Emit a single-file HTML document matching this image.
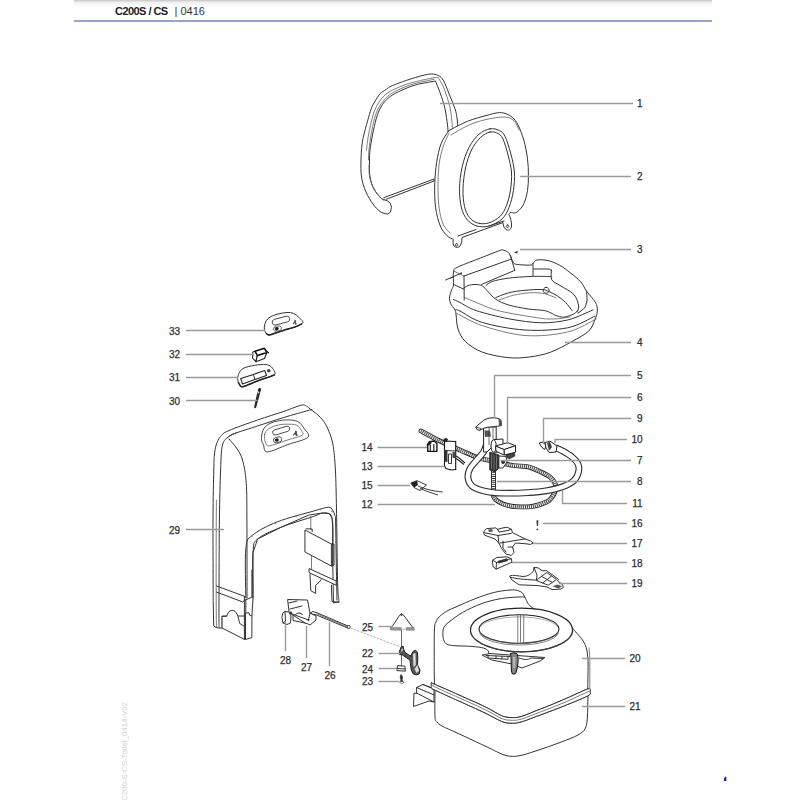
<!DOCTYPE html>
<html><head><meta charset="utf-8">
<style>
html,body{margin:0;padding:0;background:#fff;}
body{width:800px;height:800px;position:relative;overflow:hidden;font-family:"Liberation Sans",sans-serif;}
#hdr{position:absolute;left:74px;top:0;width:638px;height:21px;background:linear-gradient(#c4c4c4 0px,#ececec 2px,#f8f8f8 4px,#fdfdfd 7px,#fff 10px);}
#hline{position:absolute;left:74px;top:20px;width:638px;height:2px;background:#94a6c6;}
#h1{position:absolute;left:115px;top:5px;font-size:11px;color:#222;font-weight:bold;letter-spacing:-0.55px;white-space:pre;}
#h2{position:absolute;left:174.5px;top:5px;font-size:11px;color:#333;white-space:pre;}
#vt{position:absolute;left:120.4px;top:801px;transform-origin:0 0;transform:rotate(-90deg);font-size:8px;color:#d0d0d0;white-space:pre;letter-spacing:-0.1px;}
svg{position:absolute;left:0;top:0;}
.lb{font-family:"Liberation Sans",sans-serif;font-size:10px;fill:#2e2e2e;stroke:#2e2e2e;stroke-width:0.25px;}
.ld{stroke:#9a9a9a;stroke-width:1.4;fill:none;}
.p{fill:#fff;stroke:#333;stroke-width:1;stroke-linejoin:round;stroke-linecap:round;}
.n{fill:none;stroke:#333;stroke-width:1;stroke-linejoin:round;stroke-linecap:round;}
.g{fill:none;stroke:#5a5a5a;stroke-width:0.8;stroke-linejoin:round;stroke-linecap:round;}
.k{fill:#333;stroke:#222;stroke-width:0.6;stroke-linejoin:round;}
.h{fill:#fff;stroke:#444;stroke-width:0.9;stroke-dasharray:1.2 1;}
</style></head><body>
<div id="hdr"></div><div id="hline"></div>
<div id="h1">C200S / CS</div><div id="h2">| 0416</div>
<div id="vt">C200-S-CS-Toilet_0414-V02</div>
<svg width="800" height="800" viewBox="0 0 800 800">
<g id="parts">
<path class="p" d="M453.5 285.0 C453.8 282.1 452.9 274.9 453.5 272.0 C454.1 269.1 452.8 269.7 456.9 267.5 C461.0 265.3 470.9 261.8 478.0 259.0 C485.1 256.2 495.4 252.1 499.6 250.6 C503.8 249.1 501.7 249.8 503.0 250.0 C504.3 250.2 506.3 250.8 507.5 251.8 C508.7 252.7 509.4 253.8 510.3 255.5 C511.2 257.2 512.1 260.6 513.0 262.0 C513.9 263.4 513.6 263.6 515.4 264.1 C517.2 264.6 521.4 264.9 524.0 265.0 C526.6 265.1 529.5 265.3 531.0 265.0 C532.5 264.7 532.0 264.2 533.0 263.4 C534.0 262.6 534.4 260.5 536.9 260.0 C539.4 259.5 544.2 259.8 548.0 260.6 C551.8 261.5 555.6 263.0 559.4 265.1 C563.2 267.2 567.0 270.2 570.6 273.0 C574.2 275.8 578.1 279.0 580.8 282.0 C583.4 285.0 584.5 288.4 586.4 291.0 C588.3 293.6 590.3 295.5 592.0 297.8 C593.7 300.0 595.6 302.1 596.5 304.5 C597.4 306.9 597.5 309.4 597.2 311.9 C597.0 314.4 596.4 316.1 595.0 319.3 C593.6 322.5 592.6 327.3 588.8 331.0 C584.9 334.7 578.1 338.1 571.8 341.6 C565.4 345.1 557.6 349.7 550.5 352.2 C543.4 354.8 536.3 356.1 529.2 357.0 C522.2 357.9 515.8 358.4 508.0 357.6 C500.2 356.8 489.6 354.9 482.5 352.2 C475.4 349.6 469.6 345.5 465.5 341.6 C461.4 337.7 459.6 333.5 458.0 328.9 C456.4 324.3 456.5 317.2 456.0 314.0 C455.5 310.8 455.8 311.5 454.9 309.8 C454.0 308.0 451.5 305.5 450.6 303.4 C449.7 301.3 449.4 299.3 449.6 297.0 C449.8 294.7 451.1 291.6 451.7 289.6 C452.3 287.6 453.2 287.9 453.5 285.0Z"/><path class="n" d="M453.5 299.5 C454.6 300.0 456.2 300.6 460.0 302.5 C463.8 304.4 468.1 307.9 476.2 310.6 C484.4 313.3 497.9 316.7 508.8 318.8 C519.6 320.8 531.5 322.6 541.2 322.8 C551.0 323.0 560.0 321.6 567.5 320.0 C575.0 318.4 581.8 314.7 586.0 313.0 C590.2 311.3 591.8 310.3 593.0 309.8"/><path class="n" d="M454.9 309.8 C455.8 310.0 455.4 308.9 460.0 311.0 C464.6 313.1 471.7 319.3 482.5 322.5 C493.3 325.7 510.8 329.1 525.0 330.0 C539.2 330.9 555.8 330.1 567.5 327.8 C579.2 325.5 590.4 318.0 595.0 316.0"/><path class="g" d="M457.0 313.5 C461.2 315.5 471.2 322.0 482.5 325.7 C493.8 329.4 510.8 334.4 525.0 335.5 C539.2 336.6 555.6 334.8 567.5 332.0 C579.4 329.2 591.4 321.2 596.2 319.0"/><path class="n" d="M486.0 285.4 C487.1 284.7 488.7 282.6 492.5 281.4 C496.3 280.2 502.5 278.9 508.8 278.1 C515.0 277.3 523.4 276.8 529.9 276.5 C536.4 276.2 544.1 276.4 547.8 276.5 C551.4 276.6 551.1 276.9 551.8 277.0"/><path class="n" d="M495.8 297.6 C497.9 296.8 503.9 294.0 508.8 292.8 C513.6 291.5 519.6 290.8 525.0 290.3 C530.4 289.8 537.5 289.4 541.2 289.5 C545.0 289.6 545.0 290.0 547.8 291.1 C550.5 292.2 554.5 294.1 557.5 296.0 C560.5 297.9 563.2 300.1 565.6 302.5 C568.0 304.9 571.0 309.2 572.1 310.6"/><path class="g" d="M499.0 300.0 C501.4 299.2 508.5 296.4 513.6 295.2 C518.8 294.0 524.8 293.0 529.9 292.8 C535.0 292.5 540.1 292.7 544.5 293.6 C548.9 294.5 554.1 297.3 556.0 298.0"/><path class="n" d="M546.1 287.3a3 3 0 1 0 0.1 0z"/><path class="n" d="M551.5 270.0 C551.5 271.6 550.4 277.2 551.8 279.8 C553.2 282.3 556.3 283.1 560.0 285.5 C563.7 287.9 570.6 291.0 573.8 294.4 C576.9 297.8 578.1 302.8 578.6 305.8 C579.1 308.7 577.3 311.2 577.0 312.2"/><path class="n" d="M586.4 291.0 C586.5 292.5 587.3 297.2 587.0 300.0 C586.7 302.8 586.0 305.7 584.5 307.9 C583.0 310.1 579.1 312.1 578.0 313.0"/><path class="n" d="M533 263.4 L533 275.8 M533.5 269 L549.3 269 Q551.3 269.5 551.5 271"/><path class="n" d="M464.2 287.8 C465.1 287.3 467.5 285.5 469.8 285.0 C472.0 284.5 475.7 284.4 477.9 284.6 C480.1 284.8 481.1 285.2 482.8 286.2 C484.4 287.3 485.4 288.9 487.6 291.1 C489.8 293.3 492.2 296.9 495.8 299.2 C499.3 301.6 503.3 303.4 508.8 305.0 C514.2 306.6 522.3 308.1 528.2 309.0 C534.2 309.9 540.7 309.9 544.5 310.6 C548.3 311.3 549.1 312.2 551.0 313.0 C552.9 313.8 553.7 314.8 555.9 315.5 C558.1 316.2 561.0 317.4 564.0 317.1 C567.0 316.8 571.4 315.1 573.8 313.9 C576.1 312.7 577.3 310.6 578.0 310.0"/><path class="g" d="M464.9 297.6 C466.8 298.4 471.6 300.6 476.2 302.5 C480.9 304.4 487.1 307.2 492.5 309.0 C497.9 310.8 502.8 311.8 508.8 313.0 C514.7 314.2 522.3 315.3 528.2 316.3 C534.2 317.3 539.6 318.3 544.5 318.8 C549.4 319.2 553.2 319.0 557.5 318.8 C561.8 318.5 567.9 317.3 570.0 317.0"/><path class="n" d="M464 276 L510.6 259.3 M464 276 L464.2 300 M453.5 284.4 L464.2 289.4 M481.6 284.4 L514.8 270.3 M510.3 255.5 L514.8 270.3"/><path class="g" d="M453.5 271 L464 276"/><path class="n" d="M445.6 280 L461.4 273.1"/><path class="k" d="M450 278.5 l3 -1.3"/><circle cx="461" cy="273.3" r="0.9" fill="#333"/><path class="k" d="M514.8 252.5 l2.5 -1.2 l-0.3 1.8z"/><path class="p" d="M387.0 214.0 C385.8 213.6 382.3 213.2 380.0 211.5 C377.7 209.8 375.3 207.2 373.0 204.0 C370.7 200.8 367.9 196.5 366.0 192.0 C364.1 187.5 362.3 182.3 361.5 177.0 C360.7 171.7 360.9 165.3 361.0 160.0 C361.1 154.7 361.5 149.2 362.0 145.0 C362.5 140.8 362.8 139.0 363.8 135.0 C364.7 131.0 366.2 125.6 367.5 121.2 C368.8 116.9 370.0 112.1 371.2 108.8 C372.5 105.4 373.5 103.8 375.0 101.2 C376.5 98.8 378.1 95.7 380.0 93.8 C381.9 91.8 384.2 90.8 386.2 89.4 C388.3 88.0 388.3 87.4 392.5 85.6 C396.7 83.8 405.4 80.6 411.2 78.8 C417.1 76.9 423.5 75.1 427.5 74.4 C431.5 73.7 432.7 73.9 435.0 74.4 C437.3 74.9 439.6 75.9 441.2 77.5 C442.9 79.1 443.5 80.6 445.0 83.8 C446.5 86.9 448.3 92.1 450.0 96.2 C451.7 100.4 453.8 105.1 455.0 108.8 C456.2 112.4 456.5 114.5 457.0 118.0 C457.5 121.5 457.8 128.0 458.0 130.0 L448 132 L448.0 132.0 C447.9 130.8 448.0 128.9 447.5 125.0 C447.0 121.1 446.2 114.2 445.0 108.8 C443.8 103.3 441.6 97.1 440.0 92.5 C438.4 87.9 436.2 82.9 435.5 81.0 L435.5 81.0 C432.5 81.6 422.6 83.1 417.5 84.4 C412.4 85.7 409.2 87.0 405.0 88.8 C400.8 90.5 395.8 92.9 392.5 95.0 C389.2 97.1 387.1 99.0 385.0 101.2 C382.9 103.5 381.5 105.8 380.0 108.8 C378.5 111.7 377.5 114.4 376.2 118.8 C375.0 123.1 373.5 129.8 372.5 135.0 C371.5 140.2 370.5 145.7 370.0 150.0 C369.5 154.3 369.5 156.5 369.5 161.0 C369.5 165.5 369.2 172.3 370.0 177.0 C370.8 181.7 372.2 185.5 374.0 189.0 C375.8 192.5 379.3 196.2 381.0 198.0 C382.7 199.8 383.5 199.2 384.0 199.5 L387.6 201 L390.4 203.3 L391.5 207.3 L390.4 211.8 Z"/><path class="g" d="M368.5 160.0 C368.6 158.3 368.6 154.2 369.0 150.0 C369.4 145.8 370.1 140.2 371.0 135.0 C371.9 129.8 373.2 123.0 374.5 118.5 C375.8 114.0 376.9 111.1 378.5 108.0 C380.1 104.9 381.8 102.4 384.0 100.0 C386.2 97.6 388.2 95.6 391.5 93.5 C394.8 91.4 399.8 89.0 404.0 87.3 C408.2 85.5 412.0 84.3 417.0 83.0 C422.0 81.7 431.2 79.9 434.0 79.3"/><path class="g" d="M366.5 150.0 C366.8 147.5 367.5 140.5 368.5 135.0 C369.5 129.5 371.2 121.8 372.5 117.0 C373.8 112.2 374.9 109.7 376.5 106.5 C378.1 103.3 379.8 100.5 382.0 98.0 C384.2 95.5 386.5 93.6 390.0 91.5 C393.5 89.4 398.6 87.2 403.0 85.5 C407.4 83.8 411.5 82.8 416.5 81.5 C421.5 80.2 429.4 78.5 433.0 77.8 C436.6 77.1 437.2 77.5 438.0 77.5"/><path class="g" d="M369.0 165.0 C369.1 167.0 368.8 172.9 369.6 177.0 C370.4 181.1 372.1 185.8 374.0 189.3 C375.9 192.9 379.3 196.4 381.0 198.3 C382.7 200.2 383.8 200.1 384.3 200.5"/><path class="g" d="M438.5 78.0 C439.2 79.3 441.6 82.8 443.0 86.0 C444.4 89.2 445.8 93.0 447.0 97.0 C448.2 101.0 449.6 104.8 450.5 110.0 C451.4 115.2 452.2 125.4 452.5 128.5"/><path class="p" d="M383.7 197.7 L434 179 L434 181 L386.5 199.2"/><path class="p" d="M448.8 130.6 C451.9 129.0 461.3 123.8 467.5 121.3 C473.7 118.8 481.0 117.0 486.0 115.6 C491.0 114.2 494.3 113.2 497.5 112.8 C500.7 112.4 502.5 112.6 505.0 113.4 C507.5 114.2 510.3 115.6 512.5 117.5 C514.7 119.4 516.1 121.2 518.0 125.0 C519.9 128.8 522.2 134.4 523.8 140.0 C525.4 145.6 526.7 152.9 527.5 158.8 C528.3 164.7 528.4 170.3 528.4 175.6 C528.4 180.9 528.3 185.9 527.5 190.6 C526.7 195.3 525.4 200.4 523.8 203.8 C522.2 207.2 519.6 209.8 518.0 211.3 C516.4 212.8 515.6 212.8 514.4 213.0 C513.2 213.2 511.5 211.9 510.6 212.2 C509.7 212.4 509.1 214.1 508.8 214.5 C510 217 511.8 221 511.6 226 C511 229.5 509 230.5 507 230 C504.5 229 503 226 503 222.5 L462 237.5 C462 241 461.5 245 459 247 C457 248 454.5 247 453.4 245 C452.8 242.5 453 240 453.4 239.4 L453.4 239.4 C452.3 238.8 449.2 237.8 447.0 235.6 C444.8 233.4 442.2 230.7 440.3 226.0 C438.4 221.3 436.5 214.3 435.6 207.5 C434.7 200.7 434.5 192.5 434.7 185.0 C434.9 177.5 435.6 169.4 436.6 162.5 C437.7 155.6 439.0 149.1 441.0 143.8 C443.0 138.5 447.5 132.8 448.8 130.6Z"/><path class="g" d="M451.0 135.0 C453.8 133.4 462.2 128.1 468.0 125.5 C473.8 122.9 479.8 120.9 486.0 119.5 C492.2 118.1 500.3 116.8 505.0 117.0 C509.7 117.2 511.7 118.8 514.0 121.0 C516.3 123.2 518.2 128.5 519.0 130.0"/><path class="g" d="M449.0 133.0 C448.0 135.3 444.7 141.7 443.0 147.0 C441.3 152.3 439.8 158.7 439.0 165.0 C438.2 171.3 438.0 178.0 438.0 185.0 C438.0 192.0 438.2 200.5 439.0 207.0 C439.8 213.5 441.2 219.7 443.0 224.0 C444.8 228.3 448.8 231.5 450.0 233.0"/><path class="n" d="M490.0 128.8 C493.4 128.2 496.9 129.3 499.4 130.6 C501.9 131.8 503.1 132.6 505.0 136.3 C506.9 140.0 509.0 147.1 510.6 153.0 C512.2 158.9 513.9 165.7 514.4 172.0 C514.9 178.3 514.3 184.7 513.4 190.6 C512.5 196.5 510.9 202.8 509.0 207.5 C507.1 212.2 505.3 215.9 502.0 219.0 C498.7 222.1 493.2 224.8 489.0 226.0 C484.8 227.2 480.6 227.0 477.0 226.0 C473.4 225.0 470.1 223.0 467.5 220.0 C464.9 217.0 462.8 213.2 461.5 208.0 C460.2 202.8 459.4 195.8 459.5 188.8 C459.6 181.9 460.7 173.2 462.3 166.3 C463.9 159.4 466.2 152.8 469.0 147.5 C471.8 142.2 475.3 137.5 478.8 134.4 C482.3 131.3 486.6 129.4 490.0 128.8Z"/><path class="n" d="M490.0 132.0 C492.9 131.3 495.8 132.3 498.0 133.5 C500.2 134.7 501.3 135.4 503.0 139.0 C504.7 142.6 506.6 149.5 508.0 155.0 C509.4 160.5 511.1 166.2 511.5 172.0 C511.9 177.8 511.3 184.4 510.5 190.0 C509.7 195.6 508.2 201.1 506.5 205.5 C504.8 209.9 503.0 213.6 500.0 216.5 C497.0 219.4 492.2 221.9 488.5 223.0 C484.8 224.1 480.7 223.9 477.5 223.0 C474.3 222.1 471.7 220.2 469.5 217.5 C467.3 214.8 465.6 211.3 464.5 206.5 C463.4 201.7 462.8 195.2 463.0 188.8 C463.2 182.4 464.1 174.5 465.5 168.0 C466.9 161.5 469.0 155.1 471.5 150.0 C474.0 144.9 477.4 140.5 480.5 137.5 C483.6 134.5 487.1 132.7 490.0 132.0Z"/><path class="n" d="M458 236 L476 229.5 M489 226 L504 221"/><path class="n" d="M456.5 243.5a1.3 1.3 0 1 0 0.1 0z M507.5 225a1.3 1.3 0 1 0 0.1 0z"/><path d="M264.5 326.0 C264.8 324.6 265.1 322.7 266.0 321.2 C266.9 319.7 268.2 318.2 270.2 317.0 C272.2 315.8 275.2 314.8 278.0 314.0 C280.8 313.2 284.4 312.6 287.0 312.5 C289.6 312.4 291.7 312.6 293.6 313.4 C295.5 314.1 296.9 315.7 298.4 317.0 C299.9 318.3 302.0 320.1 302.6 321.2 C303.2 322.3 303.1 322.7 302.0 323.6 C300.9 324.5 299.0 325.5 296.0 326.6 C293.0 327.7 287.5 329.1 284.0 330.2 C280.5 331.3 277.5 332.4 275.0 333.2 C272.5 334.0 270.5 335.0 269.0 335.0 C267.5 335.0 266.8 334.1 266.0 333.2 C265.2 332.3 264.8 330.8 264.5 329.6 C264.2 328.4 264.2 327.4 264.5 326.0Z" fill="#fff" stroke="#333" stroke-width="1"/><path d="M266.0 333.4 C266.5 333.7 267.5 335.0 269.0 335.0 C270.5 335.0 272.5 334.0 275.0 333.2 C277.5 332.4 280.5 331.3 284.0 330.2 C287.5 329.1 293.0 327.7 296.0 326.6 C299.0 325.5 301.0 324.1 302.0 323.6" fill="none" stroke="#222" stroke-width="1.5"/><g transform="translate(281 320.6) rotate(-15)"><rect x="-9" y="-2.9" width="18" height="5.8" rx="2.9" fill="#fff" stroke="#444" stroke-width="0.9"/></g><g transform="translate(277.4 328.6) rotate(-12)"><ellipse cx="0" cy="0" rx="4.2" ry="2.6" fill="#fff" stroke="#555" stroke-width="0.8"/><ellipse cx="-0.6" cy="0" rx="2" ry="1.7" fill="#222"/></g><path d="M294.8 319.5 L296.2 320.5 L296 322.3 L297 324.3 L295.2 324.8 L294.5 323 L293.2 324.8 L292.8 323.5 L294.2 321.5Z" fill="#555"/><path d="M252.9 352 L255.1 351.3 L257.4 355.5 L255.9 361.7 L252.5 358Z" fill="#fff" stroke="#222" stroke-width="1.1" stroke-linejoin="round"/><path d="M257.4 355.5 L266.8 352.5 L264.5 358.5 L255.9 361.7Z" fill="#fff" stroke="#222" stroke-width="1.1" stroke-linejoin="round"/><path d="M255.1 351.3 L264.3 348.2 L266.8 352.5 L257.4 355.5Z" fill="#fff" stroke="#111" stroke-width="1.5" stroke-linejoin="round"/><path d="M264.3 348.2 L269 353 L266.8 352.5Z" fill="#333" stroke="#222" stroke-width="0.8"/><path d="M238.0 375.9 C238.7 373.9 239.8 370.9 242.0 369.2 C244.2 367.5 247.8 366.7 251.4 365.9 C255.0 365.1 260.3 364.5 263.4 364.5 C266.5 364.5 268.3 364.9 270.1 365.9 C271.9 366.9 273.3 369.2 274.1 370.6 C274.9 372.1 275.5 373.6 274.8 374.6 C274.1 375.6 273.1 375.5 270.1 376.6 C267.1 377.7 261.2 379.6 256.8 381.2 C252.3 382.9 246.2 385.9 243.4 386.6 C240.6 387.3 240.9 386.2 240.0 385.3 C239.1 384.4 238.3 382.8 238.0 381.2 C237.7 379.7 237.3 377.9 238.0 375.9Z" fill="#fff" stroke="#333" stroke-width="1"/><path d="M238.3 382.0 C238.6 382.6 239.2 384.5 240.0 385.3 C240.8 386.1 240.6 387.3 243.4 386.6 C246.2 385.9 252.3 382.9 256.8 381.2 C261.2 379.6 267.1 377.7 270.1 376.6 C273.1 375.5 274.0 374.9 274.8 374.6" fill="none" stroke="#222" stroke-width="1.5"/><path d="M240.7 378.6 L253.4 374.4 L264.8 370.6 L266.5 375.5 L255 379.6 L242.5 384Z" fill="#fff" stroke="#222" stroke-width="1.1" stroke-linejoin="round"/><path class="n" d="M253.4 374.4 L255 379.6"/><circle cx="268.8" cy="370.8" r="1.8" fill="#444"/><path d="M257.4 392 L260.3 392.6 L256.2 407.6 C255.6 408.4 254.4 408.4 254 407.4Z" fill="#2a2a2a"/><ellipse cx="259.4" cy="390.2" rx="1.6" ry="2.3" transform="rotate(15 259.4 390.2)" fill="#222"/><ellipse cx="258.3" cy="392.6" rx="0.6" ry="1.3" transform="rotate(15 258.3 392.6)" fill="#eee"/><path d="M255.5 399.8 L257.6 400.8" stroke="#ddd" stroke-width="0.8"/><path class="p" d="M213.2 600.0 C213.2 586.5 212.9 540.7 213.0 519.0 C213.1 497.3 213.5 480.7 213.8 470.0 C214.0 459.3 214.0 459.2 214.4 455.0 C214.8 450.8 215.2 448.1 216.2 445.0 C217.3 441.9 218.4 438.9 220.5 436.5 C222.6 434.1 222.8 433.2 229.0 430.5 C235.2 427.8 248.4 423.2 257.5 420.0 C266.6 416.8 276.5 413.9 283.8 411.4 C291.0 408.9 297.5 406.1 301.2 405.2 C305.0 404.4 305.0 405.5 306.5 406.1 C308.0 406.7 307.7 406.9 310.0 408.8 C312.3 410.6 317.6 414.3 320.5 417.5 C323.4 420.7 325.5 423.6 327.5 428.0 C329.5 432.4 331.4 436.8 332.8 443.8 C334.1 450.8 334.8 459.0 335.4 470.0 C336.0 481.0 336.1 491.3 336.5 510.0 C336.9 528.7 337.2 567.1 337.6 582.4 C338.0 597.7 338.8 598.4 339.0 601.6 L333.5 603 L332.8 566 L332.8 527.5 L332 517.9 L329.3 513.7 L322.5 513 L308.7 515.1 L281.2 527.2 L257.6 539 L253 552.6 L253 598 L251.9 616 L222.3 616 L222.3 628.1 L219 628 L216 627.5 L214 626 Z"/><path class="g" d="M216.5 627.0 C216.4 622.5 216.2 614.5 216.2 600.0 C216.1 585.5 216.2 556.7 216.2 540.0 C216.2 523.3 216.4 506.7 216.4 500.0"/><path class="n" d="M219.0 627.0 C219.0 622.5 218.9 617.8 219.0 600.0 C219.1 582.2 219.1 541.7 219.4 520.0 C219.7 498.3 220.1 482.5 220.6 470.0 C221.1 457.5 221.1 450.6 222.5 445.0 C223.9 439.4 226.5 438.5 228.8 436.5 C231.0 434.5 234.8 433.6 236.0 433.0"/><path class="n" d="M228.8 436.5 C230.0 435.9 231.2 434.8 236.0 433.0 C240.8 431.2 249.5 428.6 257.5 426.0 C265.5 423.4 275.3 420.1 283.8 417.5 C292.2 414.9 303.5 411.8 308.2 410.5 C313.0 409.2 311.4 410.1 312.0 410.0"/><path class="n" d="M228.8 438.8 C230.0 440.3 234.2 444.5 236.5 448.0 C238.8 451.5 240.9 454.2 242.5 460.0 C244.1 465.8 245.5 472.5 246.2 482.5 C247.0 492.5 246.8 507.1 246.9 520.0 C247.0 532.9 247.0 547.0 247.0 560.0 C247.0 573.0 247.0 591.7 247.0 598.0"/><path class="n" d="M245.8 598.0 C245.8 589.8 244.7 559.4 245.8 549.0 C246.9 538.6 246.9 539.9 252.2 535.4 C257.5 530.9 267.2 525.8 277.5 521.8 C287.8 517.7 305.3 513.4 313.8 511.0 C322.3 508.6 325.2 507.4 328.3 507.2 C331.4 507.1 331.4 508.7 332.5 510.0 C333.6 511.3 334.3 513.0 334.8 515.0 C335.3 517.0 335.4 514.2 335.6 521.8 C335.8 529.2 336.0 547.0 336.2 560.0 C336.4 573.0 336.9 593.3 337.0 600.0"/><path class="n" d="M253.0 598.0 C253.0 590.4 252.2 562.4 253.0 552.6 C253.8 542.8 252.9 543.2 257.6 539.0 C262.3 534.8 271.8 531.0 281.2 527.2 C290.6 523.4 306.9 518.7 313.8 516.3 C320.7 513.9 319.9 513.4 322.5 513.0 C325.1 512.6 327.7 512.9 329.3 513.7 C330.9 514.5 331.4 515.6 332.0 517.9 C332.6 520.2 332.7 519.5 332.8 527.5 C332.9 535.5 332.8 559.6 332.8 566.0"/><circle cx="252" cy="536" r="0.7" fill="#666"/><circle cx="275" cy="523.5" r="0.7" fill="#666"/><circle cx="296" cy="516.5" r="0.7" fill="#666"/><circle cx="320.5" cy="509.5" r="0.7" fill="#666"/><circle cx="332" cy="511.5" r="0.7" fill="#666"/><path d="M261.4 438.4 C261.4 435.7 262.2 431.3 263.8 428.7 C265.4 426.1 267.9 424.4 271.0 423.0 C274.1 421.6 278.9 420.7 282.5 420.2 C286.1 419.7 289.6 419.9 292.3 420.2 C295.0 420.5 296.9 420.9 298.8 422.2 C300.6 423.5 302.1 425.4 303.6 427.9 C305.1 430.4 310.6 434.4 308.0 437.2 C305.4 440.0 294.8 442.1 288.0 444.5 C281.2 446.9 271.6 451.8 267.5 451.9 C263.4 452.0 264.5 447.2 263.5 445.0 C262.5 442.8 261.3 441.1 261.4 438.4Z" fill="#fff" stroke="#333" stroke-width="0.9"/><path class="g" d="M264.6 434.4 C265.2 432.1 266.4 430.3 268.7 428.7 C271.0 427.1 275.0 425.8 278.4 425.0 C281.8 424.2 285.9 424.1 289.0 424.2 C292.1 424.3 295.0 424.4 297.0 425.4 C299.0 426.4 300.4 428.7 301.2 430.3 C302.0 431.9 304.5 433.5 302.0 435.2 C299.5 436.9 291.4 438.7 286.0 440.5 C280.6 442.3 272.9 445.5 269.5 445.8 C266.1 446.1 266.2 444.4 265.4 442.5 C264.6 440.6 264.1 436.7 264.6 434.4Z"/><g transform="translate(281.2 430.6) rotate(-17)"><rect x="-8.8" y="-2.6" width="17.6" height="5.2" rx="2.6" fill="#fff" stroke="#333" stroke-width="0.8"/></g><g transform="translate(277.6 439.8) rotate(-17)"><rect x="-4.2" y="-2.6" width="8.4" height="5.2" rx="2.6" fill="#fff" stroke="#333" stroke-width="0.8"/><ellipse cx="-0.8" cy="0" rx="2" ry="1.7" fill="#222"/></g><path d="M295.5 430.5 L297 431.5 L296.8 433.5 L298 435.5 L296 436 L295 434 L293.5 436 L293.2 434.5 L294.8 432.5Z" fill="#444"/><path class="n" d="M216.5 586 L244.4 596.3 M216.5 592 L242.5 601.9 L244.4 600.5"/><path class="n" d="M244.4 596.3 L244.4 639.4 M245.8 600 L245.8 639"/><path class="n" d="M251.9 570 L251.9 597.2 L245.3 600"/><path class="p" d="M222.3 616.4 L226.6 616.4 L227.5 614 C229 611 231 610.3 232.2 610.3 C234.5 610.3 236 612 236.9 614 C238.5 617 239 621 239.7 623.4 L242.5 625.3 L244.4 626.3 L244.4 639.4 L222.3 628.1Z"/><path class="p" d="M245.8 613.1 L249 612.7 L249.5 615 L251.9 616 L251.9 637.5 L245.8 639.4Z"/><path class="g" d="M310.8 516.5 L310.8 529.5 M311.5 555 L311.5 568.7"/><path class="p" d="M305.3 530.2 L331.4 544 L331.4 566 L305.3 552.2Z"/><path class="n" d="M306 528.8 L312.2 529 L312.2 531.6 M331.4 544 L334 544 L334 565 L331.4 566"/><path class="p" d="M309.4 568.7 L336.2 581 L336.2 585.2 L309.4 572.8Z"/><path class="n" d="M310 574.2 L310.8 590.7 L315.6 593.4 L315.6 585.2 L319 582.4 L321 579.7"/><path class="n" d="M331.4 585.2 L332 601.6 L339 602.3"/><path class="p" d="M414 693.5 L413.5 706.5 L429 701 L434 702 L434 689 L423 684.5 L416.6 687.5 L416.6 693Z"/><path class="n" d="M416.6 687.5 L434 695 M416.6 693 L434 702 M423 684.5 L434 689"/><path class="p" d="M435.0 690.0 C435.0 694.5 434.7 711.7 435.0 717.0 C435.3 722.3 435.8 720.5 437.0 722.0 C438.2 723.5 439.0 724.3 442.0 726.0 C445.0 727.7 447.8 728.7 455.0 732.0 C462.2 735.3 477.3 742.4 485.0 746.0 C492.7 749.6 497.1 752.0 501.2 753.8 C505.4 755.5 506.9 755.9 510.0 756.2 C513.1 756.6 515.8 756.4 520.0 755.6 C524.2 754.8 528.3 753.4 535.0 751.2 C541.7 749.1 552.8 745.2 560.0 742.5 C567.2 739.8 573.8 737.4 578.0 735.0 C582.2 732.6 583.9 731.3 585.5 728.0 C587.1 724.7 587.1 720.5 587.5 715.0 C587.9 709.5 587.8 698.8 588.0 695.0 C588.2 691.2 588.8 692.5 589.0 692.0 L590.0 692.0 C589.6 692.7 592.5 693.4 587.5 696.0 C582.5 698.6 568.8 704.0 560.0 707.5 C551.2 711.0 541.7 714.4 535.0 716.9 C528.3 719.4 524.2 721.2 520.0 722.2 C515.8 723.3 513.1 723.3 510.0 723.1 C506.9 722.9 505.4 723.0 501.2 721.2 C497.1 719.5 491.9 716.2 485.0 712.9 C478.1 709.6 465.8 704.1 460.0 701.5 C454.2 698.9 454.6 699.1 450.0 697.0 C445.4 694.9 435.4 690.3 432.5 689.0Z"/><path class="p" d="M434.5 684.0 C434.4 680.8 434.2 674.0 434.2 665.0 C434.2 656.0 434.1 637.2 434.4 630.0 C434.7 622.8 435.2 624.2 436.0 622.0 C436.8 619.8 437.5 618.7 439.2 616.9 C441.0 615.1 443.8 613.0 446.8 611.2 C449.8 609.5 452.5 608.5 457.2 606.4 C462.0 604.3 468.9 601.1 475.0 598.8 C481.1 596.4 487.9 594.0 493.8 592.5 C499.6 591.0 506.0 590.3 510.0 590.0 C514.0 589.7 515.4 590.0 517.5 590.5 C519.6 591.0 521.2 591.8 522.5 593.0 C523.8 594.2 523.5 595.2 525.0 597.5 C526.5 599.8 527.1 603.8 531.2 606.9 C535.4 610.0 543.5 612.8 550.0 616.0 C556.5 619.2 565.8 623.7 570.0 626.2 C574.2 628.8 572.9 629.0 575.0 631.2 C577.1 633.5 580.6 637.3 582.5 640.0 C584.4 642.7 585.4 645.0 586.2 647.5 C587.1 650.0 587.2 652.1 587.5 655.0 C587.8 657.9 588.1 659.3 588.1 665.0 C588.1 670.7 587.8 685.0 587.8 689.0 L588.8 688.8 C588.1 689.0 589.8 687.9 585.0 690.0 C580.2 692.1 568.3 697.7 560.0 701.2 C551.7 704.8 541.7 708.6 535.0 711.2 C528.3 713.9 524.2 715.9 520.0 716.9 C515.8 717.9 513.1 717.7 510.0 717.5 C506.9 717.3 505.4 717.4 501.2 715.6 C497.1 713.8 491.9 710.1 485.0 706.8 C478.1 703.4 465.8 698.1 460.0 695.5 C454.2 692.9 454.8 693.1 450.0 691.0 C445.2 688.9 434.6 684.3 431.5 683.0Z"/><path class="g" d="M589.0 648.0 C589.1 650.0 589.7 653.2 589.8 660.0 C589.9 666.8 589.8 684.2 589.8 689.0"/><path class="p" d="M431.5 683.0 C434.6 684.3 445.2 688.9 450.0 691.0 C454.8 693.1 454.2 692.9 460.0 695.5 C465.8 698.1 478.1 703.4 485.0 706.8 C491.9 710.1 497.1 713.8 501.2 715.6 C505.4 717.4 506.9 717.3 510.0 717.5 C513.1 717.7 515.8 717.9 520.0 716.9 C524.2 715.9 528.3 713.9 535.0 711.2 C541.7 708.6 551.7 704.8 560.0 701.2 C568.3 697.7 580.2 692.1 585.0 690.0 C589.8 687.9 588.1 689.0 588.8 688.8 C590.5 688.5 591 690 590 692 L590.0 692.0 C589.6 692.7 592.5 693.4 587.5 696.0 C582.5 698.6 568.8 704.0 560.0 707.5 C551.2 711.0 541.7 714.4 535.0 716.9 C528.3 719.4 524.2 721.2 520.0 722.2 C515.8 723.3 513.1 723.3 510.0 723.1 C506.9 722.9 505.4 723.0 501.2 721.2 C497.1 719.5 491.9 716.2 485.0 712.9 C478.1 709.6 465.8 704.1 460.0 701.5 C454.2 698.9 454.6 699.1 450.0 697.0 C445.4 694.9 435.4 690.3 432.5 689.0 L431.5 688 Z"/><path class="g" d="M432.0 685.5 C435.0 686.9 445.3 691.7 450.0 693.8 C454.7 695.9 454.2 695.6 460.0 698.2 C465.8 700.8 478.1 706.2 485.0 709.6 C491.9 713.0 497.1 716.5 501.2 718.3 C505.4 720.1 506.9 720.0 510.0 720.2 C513.1 720.4 515.8 720.5 520.0 719.5 C524.2 718.5 528.3 716.5 535.0 714.0 C541.7 711.5 550.9 708.1 560.0 704.3 C569.1 700.5 584.6 693.2 589.5 691.0"/><path class="n" d="M450.0 621.2 C449.0 622.3 444.9 624.8 443.8 627.5 C442.6 630.2 442.7 634.8 443.1 637.5 C443.5 640.2 444.5 642.4 446.2 643.8 C448.0 645.1 450.0 645.2 453.8 645.6 C457.5 646.0 464.2 645.9 468.8 646.2 C473.3 646.6 478.1 646.9 481.2 647.5 C484.4 648.1 486.2 649.0 487.5 650.0 C488.8 651.0 488.5 653.1 488.8 653.8"/><path class="n" d="M450.0 621.2 C452.1 619.8 457.3 615.4 462.5 612.5 C467.7 609.6 475.0 606.0 481.2 603.8 C487.5 601.5 493.5 599.9 500.0 598.8 C506.5 597.6 515.8 597.1 520.0 596.9 C524.2 596.7 524.2 597.4 525.0 597.5"/><ellipse cx="521.5" cy="630" rx="51" ry="21.8" fill="#fff" stroke="#222" stroke-width="1.2"/><path d="M470.5 632.5 A51.5 22 0 0 0 573 631.5" fill="none" stroke="#444" stroke-width="0.9"/><ellipse cx="519" cy="629" rx="40" ry="14.2" fill="#fff" stroke="#222" stroke-width="1.1"/><path d="M479.3 631 A40 14 0 0 0 558.8 631" fill="none" stroke="#555" stroke-width="0.8"/><path d="M479.8 633 A39.5 13.5 0 0 0 558.3 633" fill="none" stroke="#666" stroke-width="0.8"/><path d="M480.5 627 A39 12 0 0 1 557.5 627" fill="none" stroke="#777" stroke-width="0.6"/><path class="g" d="M517.8 615.5 L517.8 642 M523.7 615.3 L523.7 642 M520.5 615.3 L520.5 642"/><path class="p" d="M482.5 655 L490 653.5 L510 655 L545 657.5 L540 661 L522 668 L512 664 L492 660Z"/><path class="n" d="M486 655.5 L510 656.5 M488 655.5 l0 2.5 L496 658.5 L496 656 M496 658.5 L502 659 L502 656.3 M502 659 L508 659.3 L508 656.5 M519 658 C524 660 528 660 531 658 L543 658.5"/><path d="M510.5 653.5 C513 652.5 516 652.5 517.5 654.5 C518.5 659 518 666 516 672.5 C514.5 675 512 674.5 511.5 671.5 C511 666 511.5 659 510.5 653.5Z" fill="#858585" stroke="#222" stroke-width="1.1"/><path d="M513 657 L515.5 657 L514.8 668 L513.3 668Z" fill="#bbb"/><path d="M421.0 431.0 C424.2 432.7 433.5 437.8 440.0 441.0 C446.5 444.2 453.5 447.2 460.0 450.0 C466.5 452.8 472.9 456.1 478.8 458.0 C484.6 459.9 489.3 460.1 495.0 461.3 C500.7 462.6 507.5 464.6 513.0 465.5 C518.5 466.4 523.3 465.7 528.0 466.8 C532.7 467.9 537.3 470.3 541.0 472.0 C544.7 473.7 547.7 475.1 550.0 477.0 C552.3 478.9 554.1 481.0 555.0 483.3 C555.9 485.6 556.0 488.5 555.3 491.0 C554.6 493.5 552.5 496.7 551.0 498.5 C549.5 500.3 549.6 500.7 546.5 502.0 C543.4 503.3 537.4 505.6 532.3 506.4 C527.2 507.2 520.5 507.0 515.8 506.7 C511.0 506.4 507.5 505.6 504.0 504.3 C500.5 503.0 496.8 500.8 495.0 499.0 C493.2 497.2 493.3 494.5 493.0 493.6" fill="none" stroke="#222" stroke-width="4.8" stroke-linecap="round" stroke-linejoin="round"/><path d="M421.0 431.0 C424.2 432.7 433.5 437.8 440.0 441.0 C446.5 444.2 453.5 447.2 460.0 450.0 C466.5 452.8 472.9 456.1 478.8 458.0 C484.6 459.9 489.3 460.1 495.0 461.3 C500.7 462.6 507.5 464.6 513.0 465.5 C518.5 466.4 523.3 465.7 528.0 466.8 C532.7 467.9 537.3 470.3 541.0 472.0 C544.7 473.7 547.7 475.1 550.0 477.0 C552.3 478.9 554.1 481.0 555.0 483.3 C555.9 485.6 556.0 488.5 555.3 491.0 C554.6 493.5 552.5 496.7 551.0 498.5 C549.5 500.3 549.6 500.7 546.5 502.0 C543.4 503.3 537.4 505.6 532.3 506.4 C527.2 507.2 520.5 507.0 515.8 506.7 C511.0 506.4 507.5 505.6 504.0 504.3 C500.5 503.0 496.8 500.8 495.0 499.0 C493.2 497.2 493.3 494.5 493.0 493.6" fill="none" stroke="#eee" stroke-width="3.0" stroke-linecap="round"/><path d="M421.0 431.0 C424.2 432.7 433.5 437.8 440.0 441.0 C446.5 444.2 453.5 447.2 460.0 450.0 C466.5 452.8 472.9 456.1 478.8 458.0 C484.6 459.9 489.3 460.1 495.0 461.3 C500.7 462.6 507.5 464.6 513.0 465.5 C518.5 466.4 523.3 465.7 528.0 466.8 C532.7 467.9 537.3 470.3 541.0 472.0 C544.7 473.7 547.7 475.1 550.0 477.0 C552.3 478.9 554.1 481.0 555.0 483.3 C555.9 485.6 556.0 488.5 555.3 491.0 C554.6 493.5 552.5 496.7 551.0 498.5 C549.5 500.3 549.6 500.7 546.5 502.0 C543.4 503.3 537.4 505.6 532.3 506.4 C527.2 507.2 520.5 507.0 515.8 506.7 C511.0 506.4 507.5 505.6 504.0 504.3 C500.5 503.0 496.8 500.8 495.0 499.0 C493.2 497.2 493.3 494.5 493.0 493.6" fill="none" stroke="#3a3a3a" stroke-width="3.0" stroke-dasharray="0.9 1.1"/><path d="M493.5 456.0 C493.5 458.3 493.5 465.2 493.5 470.0 C493.5 474.8 493.5 481.0 493.5 485.0 C493.5 489.0 493.3 492.5 493.3 494.0" fill="none" stroke="#222" stroke-width="5" stroke-linecap="round" stroke-linejoin="round"/><path d="M493.5 456.0 C493.5 458.3 493.5 465.2 493.5 470.0 C493.5 474.8 493.5 481.0 493.5 485.0 C493.5 489.0 493.3 492.5 493.3 494.0" fill="none" stroke="#eee" stroke-width="3.2" stroke-linecap="round"/><path d="M493.5 456.0 C493.5 458.3 493.5 465.2 493.5 470.0 C493.5 474.8 493.5 481.0 493.5 485.0 C493.5 489.0 493.3 492.5 493.3 494.0" fill="none" stroke="#3a3a3a" stroke-width="3.2" stroke-dasharray="0.9 1.1"/><path d="M427.6 444.5 L429.5 441.6 L434 441 L436.9 443.5 L436.9 451.2 L427.8 451.4Z" fill="#fff" stroke="#111" stroke-width="1.4" stroke-linejoin="round"/><path d="M428 442 L432 441 L431 444 L428 446Z" fill="#222"/><path d="M430.3 444.5 L430.3 451 M433.8 444 L433.8 451" stroke="#222" stroke-width="1.2"/><path d="M444.5 441 L455.7 441.5 L455.7 469.5 L451 470 L446 468.5 L444.5 466Z" fill="#fff" stroke="#111" stroke-width="1.1"/><path d="M444.5 450.5 L455.7 451 M448.5 454 L448.5 463.5 L451.5 463.5 L451.5 454Z" stroke="#222" stroke-width="0.9" fill="none"/><path d="M444.3 450 L447.5 450.5 L447.5 462 L444.3 461.5Z" fill="#333"/><path d="M452.5 452 L455.5 452.3 L455.5 458 L452.5 458Z" fill="#444"/><path d="M443.5 439 L446 438 L448 439 L447 441.5 L444 441.5Z" fill="#222"/><path d="M456 456 C458.5 457.5 461.5 460 465 463 M456 458.5 C458.5 460 461 462 464 464.5" stroke="#222" stroke-width="1.1" fill="none"/><path d="M410.8 483 L417 480.7 L420 482 L426.5 485 L420 490.5 L414 487.5Z" fill="#fff" stroke="#222" stroke-width="0.9"/><path d="M411 483 L417 480.7 L418 485 L414 487.5Z" fill="#222"/><path d="M418 486 C425 489 432 491 442.7 492 M420 488.5 C427 491.5 433 493.5 438 495" stroke="#222" stroke-width="0.9" fill="none"/><path d="M487.0 443.0 C486.4 444.5 485.3 449.0 483.5 452.0 C481.7 455.0 478.3 458.1 476.0 461.0 C473.7 463.9 470.8 466.7 469.5 469.5 C468.2 472.3 467.6 475.2 468.0 478.0 C468.4 480.8 469.7 483.9 472.0 486.0 C474.3 488.1 478.2 489.4 482.0 490.5 C485.8 491.6 490.3 492.4 495.0 492.8 C499.7 493.2 504.5 493.2 510.0 493.2 C515.5 493.2 522.0 493.0 528.0 492.6 C534.0 492.2 540.2 491.8 546.0 490.8 C551.8 489.8 557.8 488.5 562.5 486.8 C567.2 485.1 571.3 483.0 574.0 480.5 C576.7 478.0 577.8 474.8 578.5 472.0 C579.2 469.2 579.1 466.5 578.0 464.0 C576.9 461.5 574.5 459.1 572.0 457.0 C569.5 454.9 565.8 452.8 563.0 451.2 C560.2 449.6 556.3 448.1 555.0 447.5" fill="none" stroke="#2a2a2a" stroke-width="6.8" stroke-linecap="butt" stroke-linejoin="round"/><path d="M487.0 443.0 C486.4 444.5 485.3 449.0 483.5 452.0 C481.7 455.0 478.3 458.1 476.0 461.0 C473.7 463.9 470.8 466.7 469.5 469.5 C468.2 472.3 467.6 475.2 468.0 478.0 C468.4 480.8 469.7 483.9 472.0 486.0 C474.3 488.1 478.2 489.4 482.0 490.5 C485.8 491.6 490.3 492.4 495.0 492.8 C499.7 493.2 504.5 493.2 510.0 493.2 C515.5 493.2 522.0 493.0 528.0 492.6 C534.0 492.2 540.2 491.8 546.0 490.8 C551.8 489.8 557.8 488.5 562.5 486.8 C567.2 485.1 571.3 483.0 574.0 480.5 C576.7 478.0 577.8 474.8 578.5 472.0 C579.2 469.2 579.1 466.5 578.0 464.0 C576.9 461.5 574.5 459.1 572.0 457.0 C569.5 454.9 565.8 452.8 563.0 451.2 C560.2 449.6 556.3 448.1 555.0 447.5" fill="none" stroke="#fff" stroke-width="4.6" stroke-linecap="butt" stroke-linejoin="round"/><path d="M489.7 452.2 L498.9 454.9 L498.9 468 L495 472 L489.7 470Z" fill="#333" stroke="#222" stroke-width="0.8"/><path d="M491.5 454 L491.5 469 M494 454.8 L494 470 M496.5 455.3 L496.5 469" stroke="#999" stroke-width="0.6"/><path d="M498.9 456 L506 456.5 L507 462 L503 468 L498.9 468Z" fill="#fff" stroke="#222" stroke-width="0.9"/><path d="M503 460 a2 2 0 1 0 0.1 0" fill="#333"/><path d="M506 452 L514 451 L515 456 L509 459 L506 457Z" fill="#444" stroke="#222" stroke-width="0.6"/><path d="M483.6 427 L496.2 427 L496.2 446 L491 448 L487 452 L483.6 452Z" fill="#fff" stroke="#222" stroke-width="1"/><path d="M484.4 430.4 L490 430.4 L491 436.5 L485 437Z" fill="#555"/><path d="M489 427.5 L489 445 M493 428 L493 439" stroke="#333" stroke-width="0.7"/><path d="M493.6 439.6 L503 439 L503 452 L494.5 452.3 A2.6 6.3 0 0 1 493.6 439.6Z" fill="#fff" stroke="#222" stroke-width="1"/><ellipse cx="493.6" cy="446" rx="2.6" ry="6.2" fill="#fff" stroke="#222" stroke-width="1"/><path d="M495.4 446.1 L507.6 442.6 L515.5 445.7 L504.1 449.6Z" fill="#fff" stroke="#222" stroke-width="1"/><path d="M504.1 449.6 L515.5 445.7 L515.5 452.3 L504.1 455Z" fill="#fff" stroke="#222" stroke-width="1"/><path d="M495.4 446.1 L496.2 451.4 L504.1 455 L504.1 449.6Z" fill="#fff" stroke="#222" stroke-width="1"/><path d="M475.7 427 L481 422.5 C484 419.5 488 418 492 417.8 C496 417.7 499.5 418.3 501 420.3 L501.5 425.5 C499 426.3 493 426.6 487.5 427.3 C484 428 481.5 429.3 479.6 430.4 L477 429.5Z" fill="#fff" stroke="#222" stroke-width="1"/><path d="M498.5 418.6 C500 419 500.8 419.6 501 420.3 L501.5 425.5 L499 426Z" fill="#555"/><path d="M475.7 427 L481 428.5 L479.6 430.4" stroke="#222" stroke-width="0.8" fill="none"/><path d="M539.2 443 L544 441.8 L546 446 L544.6 449.6 Q541 447.5 539.2 443Z" fill="#fff" stroke="#222" stroke-width="1"/><path d="M545 442.5 L550 441.2 L557 446 L556 452 L549 452.5 L546 448Z" fill="#fff" stroke="#222" stroke-width="1"/><path d="M547 443 L550 442 L552 447 L549 451Z" fill="#444"/><path d="M536.4 520.5 L538.4 520.3 L538 526 L536.9 526Z" fill="#333"/><circle cx="537.4" cy="529.4" r="0.9" fill="#333"/><path class="p" d="M483.75 532.7 L484.4 530.6 L486.5 528.6 L496.1 527.9 L497.5 529.3 L503 527.9 L507.1 527.2 L511.3 529.3 L512.6 532.7 L525 538.9 L530.5 541 L533.3 543 L530.5 544.4 L525 543.7 L515.4 543 L512.6 547.1 L514 552.6 L511.3 555.4 L505.8 554 L501.6 548.5 L498.9 543 L494.8 538.9 L485.1 535.4Z"/><path class="n" d="M484.4 532.7 L498 535.5 L511.3 533.4 M498 535.5 L498.9 543 M500.3 543 L525 538.9 M497.5 529.3 L499 532 L508 530.5 L511.3 529.3 M503 541 L503 548 L506 552 M512.6 547.1 L508 547"/><path d="M488 529.5 L492 529 L493 531.5 L489 532Z" fill="#555"/><path class="p" d="M492.7 560.2 L496.8 557.5 L507.1 556.8 L511.3 558.8 L512 562.3 L507.1 564.3 L496.1 569.1 L493.4 567.1Z"/><path class="n" d="M492.7 560.2 L496.5 562.5 L507.1 559.5 L511.3 558.8 M496.5 562.5 L496.1 569.1"/><path d="M497.5 561 L507 558.2 L508 561 L498.5 563.5Z" fill="#333"/><path class="p" d="M510 575.8 C513 574.5 518 576 523 576.5 C528 576.5 531 574 533.5 571 L534 567.5 L538 567.8 L542 570.7 L546.7 570.7 L558.5 579.3 L557.5 581 L562.5 584.5 L563.3 587.5 L561 589 L552.2 589.6 L547 587 L538 585.6 L519.2 584.8 L512 580 Z"/><path class="n" d="M536.5 580.1 L546.7 572.5 L556.5 579.5 L548.5 585 Z M541.5 576.3 L552 582.3 M543 582.8 L551.5 576 M534 567.5 L537 575 L536.5 580.1 M511 577.5 C516 578.5 523 579.5 536.5 580.1"/><path d="M552.5 586.3 L557.5 584.5 L562 586.3 L558.5 588.5Z" fill="#555"/><path class="p" d="M288 599.5 L307.5 600 L310 613 L316 616 L316 620 L310 625 L308 624 L305 623 L293 615 L289.5 613Z"/><path class="n" d="M289 603 L297 601 M290 609 L302 606 M289.5 613 L308.5 620 L310 613 M293 615 L293 620.5 L305 623"/><path class="n" d="M295.5 614.5 C297 612.5 301 612.5 302.5 614.5"/><circle cx="308.5" cy="620" r="1" fill="#222"/><circle cx="291" cy="612.5" r="1" fill="#222"/><path class="p" d="M283 613 L285 611.5 L289 612 L291 616 L290.5 623 L287 624.5 L283 623 L282 618Z"/><path class="n" d="M285 611.5 L285.5 621 L283 623"/><path class="p" d="M311 612.5 L313 611.5 L317 612.8 L348 626 L348.5 628.2 L346.5 627.5 L316 614.8 L312 614Z"/><path class="g" d="M317 613.8 L347 626.8"/><circle cx="348.8" cy="627" r="1.5" fill="#fff" stroke="#333" stroke-width="0.9"/><path d="M350.5 628 L400.5 647" stroke="#b0b0b0" stroke-width="0.9" stroke-dasharray="2.5 1" fill="none"/><path d="M390.7 629 L399.5 615.3 Q401.6 612.6 403.7 615.3 L413.9 629" fill="#fff" stroke="#333" stroke-width="1"/><path d="M390.3 627.4 L401.2 627.6 L401.2 630.3 L390.3 630Z M406.4 627.6 L414.3 627.6 L414.3 630.3 L406.4 630.3Z" fill="#9a9a9a" stroke="#666" stroke-width="0.5"/><path d="M401.2 629.2 L406.4 629.2" stroke="#999" stroke-width="0.7"/><path d="M399.8 614.5 L401.6 613.3 L403.3 614.5 L401.6 616.2Z" fill="#444"/><path d="M401.5 630 L401.5 666" stroke="#444" stroke-width="0.8"/><path d="M399.4 651.25 L401.25 646.9 L403.1 646.25 L403.75 649.4 L405 652.5 L408.75 655 L411.25 656.25 L410.6 656.25 L413.1 651.25 L415.6 650.3 L417.5 652.5 L417.8 658.75 L417.5 665 L420 670 L419.4 673.75 L416.25 675 L413.1 673.75 L411.25 670 L410.6 665 L410 660 L406.9 658.1 L402.5 655 L399.4 654.4Z" fill="#555" stroke="#222" stroke-width="1"/><path d="M413 654 L415.5 653 L415.8 665 L413.5 667Z M417.5 665 L419 671 L416.5 673 L414.5 669Z" fill="#ddd"/><path d="M402 648 L403 650 L401 652Z" fill="#fff"/><path class="p" d="M398.1 665.6 L405 666.2 L405.3 671.2 L397.2 670.6Z"/><path class="n" d="M397.5 668.5 L405.2 669"/><path d="M401 674.5 C402.5 676 403 678 402 680 L403.7 682.5 C403 684 400.5 684 400 682.5 L401 680 C400 678 400 676 401 674.5Z" fill="#333" stroke="#222" stroke-width="0.7"/><path d="M400.3 681.8 L403.3 682 L402.8 683.5 L400.6 683.4Z" fill="#fff"/>
</g>
<g class="ld"><path d="M440 103.5H633"/><path d="M520 176.5H631"/><path d="M520 249.5H631"/><path d="M565 342.5H631"/><path d="M494.5 418V375.5H631"/><path d="M507.5 444V397.5H631"/><path d="M543.5 444V418.5H631"/><path d="M555 443V439.5H627"/><path d="M500.5 460.5H631"/><path d="M497 481.5H631"/><path d="M562.5 490V503.5H627"/><path d="M543 523.5H627"/><path d="M533 543.5H627"/><path d="M512 562.5H627"/><path d="M559 583.5H627"/><path d="M582 658.5H625"/><path d="M582 706.5H625"/><path d="M186 330.5H265"/><path d="M186 354.5H254"/><path d="M186 377.5H238"/><path d="M186 400.5H255.5"/><path d="M186 529.5H224"/><path d="M377.5 447.5H427"/><path d="M377.5 466.5H444.5"/><path d="M377.5 485.5H410"/><path d="M377.5 504.5H495"/><path d="M378.5 626.5H393"/><path d="M378.5 653.5H400"/><path d="M378.5 668.5H397"/><path d="M378.5 681.5H399.5"/><path d="M285.5 621V651"/><path d="M306.5 626V658.3"/><path d="M329.5 622V666"/></g>
<g class="lb" text-anchor="end"><text x="642.6" y="107">1</text><text x="642.6" y="180">2</text><text x="642.6" y="253">3</text><text x="642.6" y="346">4</text><text x="642.6" y="379">5</text><text x="642.6" y="400.5">6</text><text x="642.6" y="422">9</text><text x="642.6" y="443">10</text><text x="642.6" y="464">7</text><text x="642.6" y="485">8</text><text x="642.6" y="506.5">11</text><text x="642.6" y="527">16</text><text x="642.6" y="547">17</text><text x="642.6" y="566.5">18</text><text x="642.6" y="587">19</text><text x="640.6" y="662">20</text><text x="640.6" y="710">21</text><text x="180" y="334.5">33</text><text x="180" y="357.8">32</text><text x="180" y="381">31</text><text x="180" y="404.8">30</text><text x="180" y="533.5">29</text><text x="372.5" y="451">14</text><text x="372.5" y="470">13</text><text x="372.5" y="489">15</text><text x="372.5" y="507.7">12</text><text x="373" y="630.5">25</text><text x="373" y="657">22</text><text x="373" y="672.5">24</text><text x="373" y="685.3">23</text><text x="291" y="664.1">28</text><text x="312" y="671.1">27</text><text x="335.5" y="679.1">26</text></g>
<path d="M723.8 781 L726.3 781 L726.4 777 L725.4 776.6 L724 778.6Z" fill="#2020b8"/>
</svg>
</body></html>
